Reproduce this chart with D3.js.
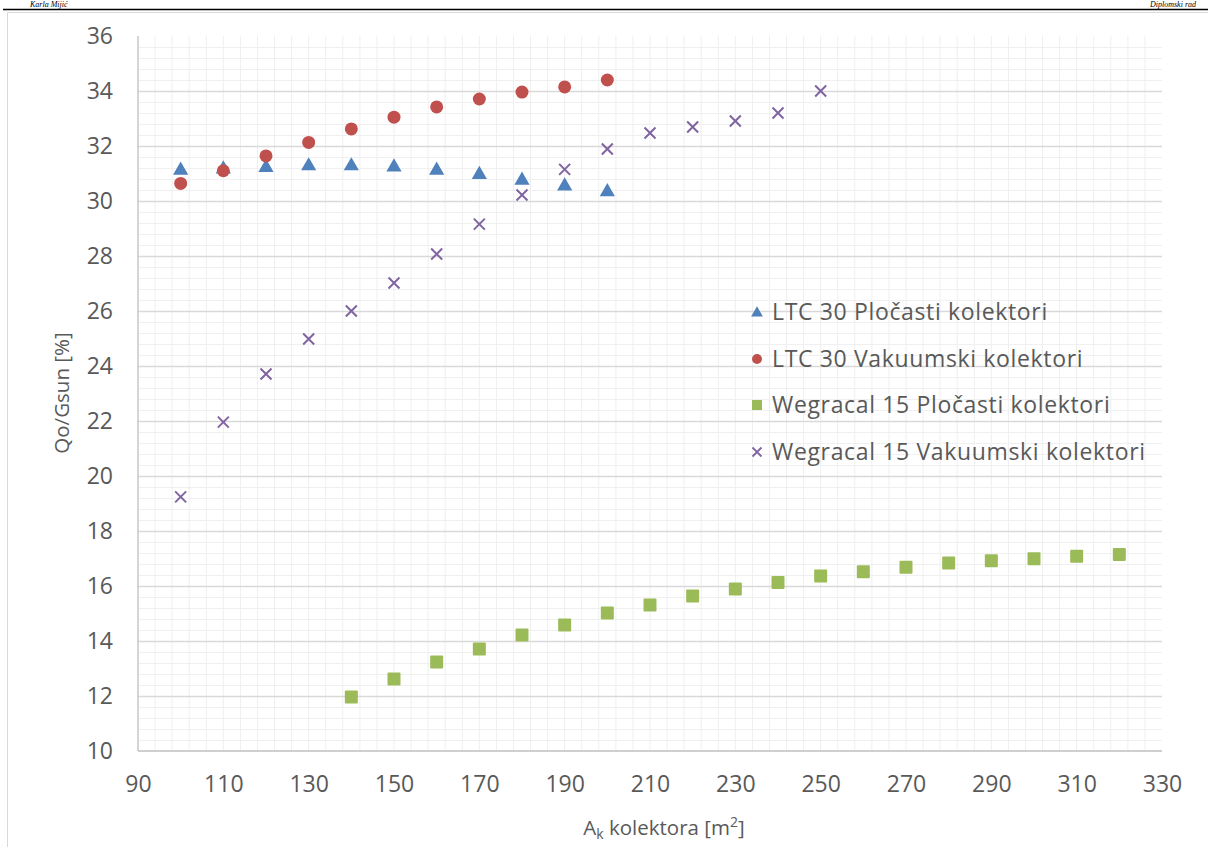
<!DOCTYPE html>
<html><head><meta charset="utf-8">
<script src="https://cdn.jsdelivr.net/npm/d3@7"></script>
<style>html,body{margin:0;padding:0;background:#fff;}svg{display:block;}</style>
</head><body>
<svg id="c" width="1208" height="847"></svg>
<script>
// ---- data ----
const xLtc = [100,110,120,130,140,150,160,170,180,190,200];
const ltcPlocasti = [31.15,31.2,31.25,31.31,31.31,31.27,31.15,31.0,30.79,30.58,30.37];
const ltcVakuumski = [30.64,31.1,31.64,32.13,32.62,33.05,33.42,33.71,33.96,34.15,34.4];
const xWegPloc = [140,150,160,170,180,190,200,210,220,230,240,250,260,270,280,290,300,310,320];
const wegPlocasti = [11.96,12.62,13.24,13.71,14.22,14.58,15.02,15.31,15.64,15.89,16.13,16.36,16.52,16.68,16.84,16.92,16.99,17.08,17.15];
const xWegVak = [100,110,120,130,140,150,160,170,180,190,200,210,220,230,240,250];
const wegVakuumski = [19.24,21.96,23.71,24.98,26.0,27.02,28.07,29.16,30.22,31.15,31.89,32.47,32.69,32.91,33.2,34.0];
const seriesNames = ["LTC 30 Pločasti kolektori","LTC 30 Vakuumski kolektori","Wegracal 15 Pločasti kolektori","Wegracal 15 Vakuumski kolektori"];
const xTicks = [90,110,130,150,170,190,210,230,250,270,290,310,330];
const yTicks = [10,12,14,16,18,20,22,24,26,28,30,32,34,36];

const svg = d3.select("#c");
const font = "'Open Sans', 'Noto Sans', sans-serif";
const txt = "#595959";

// header
svg.append("line").attr("x1",3).attr("x2",1208).attr("y1",9.5).attr("y2",9.5).attr("stroke","#000").attr("stroke-width",1.5);
svg.append("text").attr("x",30).attr("y",7).attr("font-family","'Liberation Serif', serif").attr("font-style","italic").attr("font-size",8).attr("fill","#000").text("Karla Mijić");
svg.append("text").attr("x",1150).attr("y",7).attr("font-family","'Liberation Serif', serif").attr("font-style","italic").attr("font-size",8).attr("fill","#000").text("Diplomski rad");
// chart border
svg.append("path").attr("d","M7.5,847 V12.5 H1208").attr("fill","none").attr("stroke","#d9d9d9").attr("stroke-width",1);

const L=138, R=1162, T=36, B=751;
const x = d3.scaleLinear().domain([90,330]).range([L,R]);
const y = d3.scaleLinear().domain([10,36]).range([B,T]);

const g = svg.append("g");
// minor vertical grid
g.selectAll(".vx").data(d3.range(94,330,4)).join("line")
  .attr("x1",d=>x(d)).attr("x2",d=>x(d)).attr("y1",T).attr("y2",B)
  .attr("stroke","#efefef").attr("stroke-width",1);
// minor horizontal grid
g.selectAll(".hm").data(d3.range(0,65).map(i=>10+i*0.4).filter(v=>Math.abs(v/2-Math.round(v/2))>0.01)).join("line")
  .attr("x1",L).attr("x2",R).attr("y1",d=>Math.round(y(d))+0.5).attr("y2",d=>Math.round(y(d))+0.5)
  .attr("stroke","#f0f0f0").attr("stroke-width",1);
// major horizontal grid
g.selectAll(".hM").data(yTicks.filter(v=>v>10 && v<36)).join("line")
  .attr("x1",L).attr("x2",R).attr("y1",d=>Math.round(y(d))+0.5).attr("y2",d=>Math.round(y(d))+0.5)
  .attr("stroke","#d9d9d9").attr("stroke-width",1.3);
// axes lines
g.append("line").attr("x1",L).attr("x2",L).attr("y1",T).attr("y2",B).attr("stroke","#bfbfbf").attr("stroke-width",1.3);
g.append("line").attr("x1",L).attr("x2",R).attr("y1",B).attr("y2",B).attr("stroke","#bfbfbf").attr("stroke-width",1.3);

// axes via d3
const xAxis = svg.append("g").attr("transform",`translate(0,${B})`)
  .call(d3.axisBottom(x).tickValues(xTicks).tickSize(0).tickPadding(25));
const yAxis = svg.append("g").attr("transform",`translate(${L},0)`)
  .call(d3.axisLeft(y).tickValues(yTicks).tickSize(0).tickPadding(25));
[xAxis,yAxis].forEach(a=>{a.select(".domain").remove();
  a.selectAll("text").attr("font-family",font).attr("font-size",23).attr("fill",txt);});

// axis titles
svg.append("text").attr("transform","translate(69,393) rotate(-90)").attr("text-anchor","middle")
  .attr("font-family",font).attr("font-size",20.5).attr("fill",txt).text("Qo/Gsun [%]");
const xt = svg.append("text").attr("x",664).attr("y",835).attr("text-anchor","middle")
  .attr("font-family",font).attr("font-size",20.5).attr("fill",txt);
xt.append("tspan").text("A");
xt.append("tspan").attr("font-size",14).attr("dy",4).text("k");
xt.append("tspan").attr("dy",-4).text(" kolektora [m");
xt.append("tspan").attr("font-size",14).attr("dy",-8).text("2");
xt.append("tspan").attr("dy",8).text("]");

const colors = ["#4f81bd","#c0504d","#9bbb59","#8064a2"];
const tri = d3.symbol().type(d3.symbolTriangle).size(100);
const plot = svg.append("g");
// triangles
plot.selectAll(".t").data(xLtc.map((v,i)=>[v,ltcPlocasti[i]])).join("path")
  .attr("transform",d=>`translate(${x(d[0])},${y(d[1])+1})`).attr("d",tri()).attr("fill",colors[0]);
// circles
plot.selectAll(".c").data(xLtc.map((v,i)=>[v,ltcVakuumski[i]])).join("circle")
  .attr("cx",d=>x(d[0])).attr("cy",d=>y(d[1])).attr("r",6.5).attr("fill",colors[1]);
// squares
plot.selectAll(".s").data(xWegPloc.map((v,i)=>[v,wegPlocasti[i]])).join("rect")
  .attr("x",d=>x(d[0])-6.5).attr("y",d=>y(d[1])-6.5).attr("width",13).attr("height",13).attr("rx",1).attr("fill",colors[2]);
// crosses
const cross = (s,cx,cy)=>`M${cx-s},${cy-s}L${cx+s},${cy+s}M${cx-s},${cy+s}L${cx+s},${cy-s}`;
plot.selectAll(".x").data(xWegVak.map((v,i)=>[v,wegVakuumski[i]])).join("path")
  .attr("d",d=>cross(5.5,x(d[0]),y(d[1]))).attr("stroke",colors[3]).attr("stroke-width",2).attr("fill","none");

// legend
const ly = [312,359,405,452];
const lg = svg.append("g");
lg.append("path").attr("transform",`translate(757,${ly[0]+1})`).attr("d",d3.symbol().type(d3.symbolTriangle).size(60)()).attr("fill",colors[0]);
lg.append("circle").attr("cx",757).attr("cy",ly[1]).attr("r",5).attr("fill",colors[1]);
lg.append("rect").attr("x",752).attr("y",ly[2]-5).attr("width",10).attr("height",10).attr("fill",colors[2]);
lg.append("path").attr("d",cross(4.5,757,ly[3])).attr("stroke",colors[3]).attr("stroke-width",1.8);
lg.selectAll("text").data(seriesNames).join("text")
  .attr("x",772).attr("y",(d,i)=>ly[i]).attr("dy","0.35em")
  .attr("font-family",font).attr("font-size",23).attr("letter-spacing",0.65).attr("fill",txt).text(d=>d);
</script>
</body></html>
